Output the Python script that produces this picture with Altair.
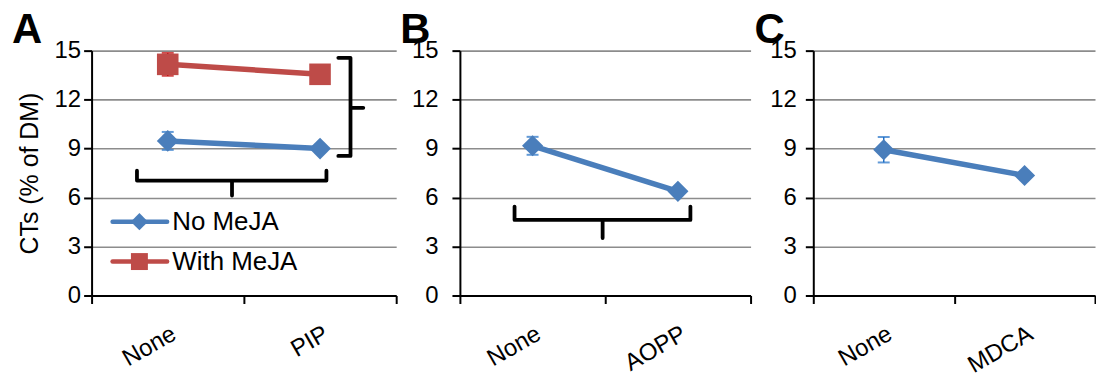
import altair as alt
import pandas as pd

FONT = "Liberation Sans"
BLUE = "#4A7EBB"
RED = "#BE4B48"
BLUE_ERR = "#1F6FC6"
RED_ERR = "#C00000"

# ---------------- data ----------------
Y_TICKS = [0, 3, 6, 9, 12, 15]

a_cats = ["None", "PIP"]
a_no_meja = [9.47, 9.0]
a_no_meja_err = [0.55, 0.0]
a_with_meja = [14.16, 13.55]
a_with_meja_err = [0.7, 0.0]

b_cats = ["None", "AOPP"]
b_no_meja = [9.17, 6.38]
b_no_meja_err = [0.55, 0.0]

c_cats = ["None", "MDCA"]
c_no_meja = [8.93, 7.35]
c_no_meja_err = [0.78, 0.0]

legend_names = ["No MeJA", "With MeJA"]
panel_letters = ["A", "B", "C"]

# ---------------- annotations (x as fraction of panel width, y in data units) ----------------
brace_a_h_x = [0.149, 0.149, 0.461, 0.461, 0.461, 0.771, 0.771]
brace_a_h_y = [7.65, 7.04, 7.04, 6.12, 7.04, 7.04, 7.65]
brace_a_v_x = [0.81, 0.85, 0.85, 0.892, 0.85, 0.85, 0.81]
brace_a_v_y = [14.56, 14.56, 11.5, 11.5, 11.5, 8.55, 8.55]
brace_b_x = [0.188, 0.188, 0.491, 0.491, 0.491, 0.793, 0.793]
brace_b_y = [5.45, 4.63, 4.63, 3.52, 4.63, 4.63, 5.45]

legend_y = [4.52, 2.08]
legend_line_x = [0.069, 0.248]
legend_marker_x = 0.157
legend_text_x = 0.265

letter_x = [-0.2614, -0.2055, -0.2085]
letter_y = 15.49

FRAC = alt.Scale(domain=[0, 1], nice=False, zero=False)
YSCALE = alt.Scale(domain=[0, 15], nice=False, zero=True)


def series(name, vals, errs, color, ecolor, shape, size):
    return dict(name=name, values=vals, errs=errs, color=color, ecolor=ecolor,
                shape=shape, size=size)


def panel(series_list, cats, width, letter, lx, ylab_pad, ytitle, brace_list, legend_items):
    xscale = alt.Scale(domain=cats, paddingInner=0, paddingOuter=0)
    xaxis = alt.Axis(title=None, labelAngle=330, labelAlign="right", labelBaseline="top",
                     labelPadding=18, grid=False, tickBand="extent",
                     labelFont=FONT, labelFontSize=24)
    yaxis = alt.Axis(values=Y_TICKS, title=ytitle, labelPadding=ylab_pad, grid=True,
                     titlePadding=12, titleFont=FONT, titleFontSize=25,
                     titleFontWeight="normal", labelFont=FONT, labelFontSize=24)

    def X(field):
        return alt.X(f"{field}:N", scale=xscale, sort=cats, axis=xaxis)

    def Y(field):
        return alt.Y(f"{field}:Q", scale=YSCALE, axis=yaxis)

    def FX(field):
        return alt.X(f"{field}:Q", scale=FRAC, axis=None)

    layers = []
    for s in series_list:
        df = pd.DataFrame({"cat": cats, "value": s["values"], "err": s["errs"]})
        df["lo"] = df["value"] - df["err"]
        df["hi"] = df["value"] + df["err"]
        base = alt.Chart(df)
        layers.append(base.mark_line(color=s["color"], strokeWidth=5.5).encode(
            x=X("cat"), y=Y("value")))
        edf = alt.Chart(df[df["err"] > 0])
        layers.append(edf.mark_rule(color=s["ecolor"], strokeWidth=1.5).encode(
            x=X("cat"), y=Y("lo"), y2="hi:Q"))
        for f in ["lo", "hi"]:
            layers.append(edf.mark_tick(color=s["ecolor"], size=12, thickness=2).encode(
                x=X("cat"), y=Y(f)))
        layers.append(base.mark_point(shape=s["shape"], filled=True, size=s["size"],
                                      color=s["color"], opacity=1).encode(
            x=X("cat"), y=Y("value")))
    main = alt.layer(*layers)

    annots = []
    ldf = pd.DataFrame({"lx": [lx], "ly": [letter_y], "t": [letter]})
    annots.append(alt.Chart(ldf).mark_text(align="left", baseline="alphabetic", font=FONT,
                                           fontSize=42, fontWeight="bold",
                                           color="black").encode(
        x=FX("lx"), y=Y("ly"), text="t:N"))
    for xs, ys in brace_list:
        bdf = pd.DataFrame({"bx": xs, "by": ys, "k": list(range(len(xs)))})
        annots.append(alt.Chart(bdf).mark_line(color="black", strokeWidth=3.8,
                                               strokeJoin="round", strokeCap="round").encode(
            x=FX("bx"), y=Y("by"), order="k:Q"))
    for (name, color, shape, size), yv in zip(legend_items, legend_y):
        gdf = pd.DataFrame({"lx": legend_line_x, "ly": [yv, yv]})
        annots.append(alt.Chart(gdf).mark_line(color=color, strokeWidth=4.5,
                                               strokeCap="round").encode(
            x=FX("lx"), y=Y("ly")))
        mdf = pd.DataFrame({"lx": [legend_marker_x], "ly": [yv]})
        annots.append(alt.Chart(mdf).mark_point(shape=shape, filled=True, size=size,
                                                color=color, opacity=1).encode(
            x=FX("lx"), y=Y("ly")))
        tdf = pd.DataFrame({"lx": [legend_text_x], "ly": [yv], "t": [name]})
        annots.append(alt.Chart(tdf).mark_text(align="left", baseline="middle", font=FONT,
                                               fontSize=26, color="black").encode(
            x=FX("lx"), y=Y("ly"), text="t:N"))

    ch = alt.layer(main, alt.layer(*annots)).resolve_scale(x="independent")
    return ch.properties(width=width, height=246)


panel_a = panel(
    [series(legend_names[0], a_no_meja, a_no_meja_err, BLUE, BLUE_ERR, "diamond", 480),
     series(legend_names[1], a_with_meja, a_with_meja_err, RED, RED_ERR, "square", 470)],
    a_cats, 306, panel_letters[0], letter_x[0], 3, "CTs (% of DM)",
    [(brace_a_h_x, brace_a_h_y), (brace_a_v_x, brace_a_v_y)],
    [(legend_names[0], BLUE, "diamond", 300), (legend_names[1], RED, "square", 290)],
)

panel_b = panel(
    [series(legend_names[0], b_no_meja, b_no_meja_err, BLUE, BLUE_ERR, "diamond", 450)],
    b_cats, 292, panel_letters[1], letter_x[1], 14, None,
    [(brace_b_x, brace_b_y)], [],
)

panel_c = panel(
    [series(legend_names[0], c_no_meja, c_no_meja_err, BLUE, BLUE_ERR, "diamond", 450)],
    c_cats, 283, panel_letters[2], letter_x[2], 9, None,
    [], [],
)

chart = alt.hconcat(panel_a, panel_b, panel_c, spacing=2).configure_view(
    stroke=None
).configure_axis(
    labelFont=FONT, titleFont=FONT, labelFontSize=24, titleFontSize=25,
    labelColor="black", titleColor="black", titleFontWeight="normal",
    domainColor="black", domainWidth=2, tickColor="black", tickWidth=2, tickSize=8,
    gridColor="#8c8c8c", gridWidth=1.6,
).properties(
    padding={"left": 12, "top": 7, "right": 0, "bottom": 0},
    background="white",
)

chart.save("out.html", embed_options={"renderer": "svg", "actions": False})
